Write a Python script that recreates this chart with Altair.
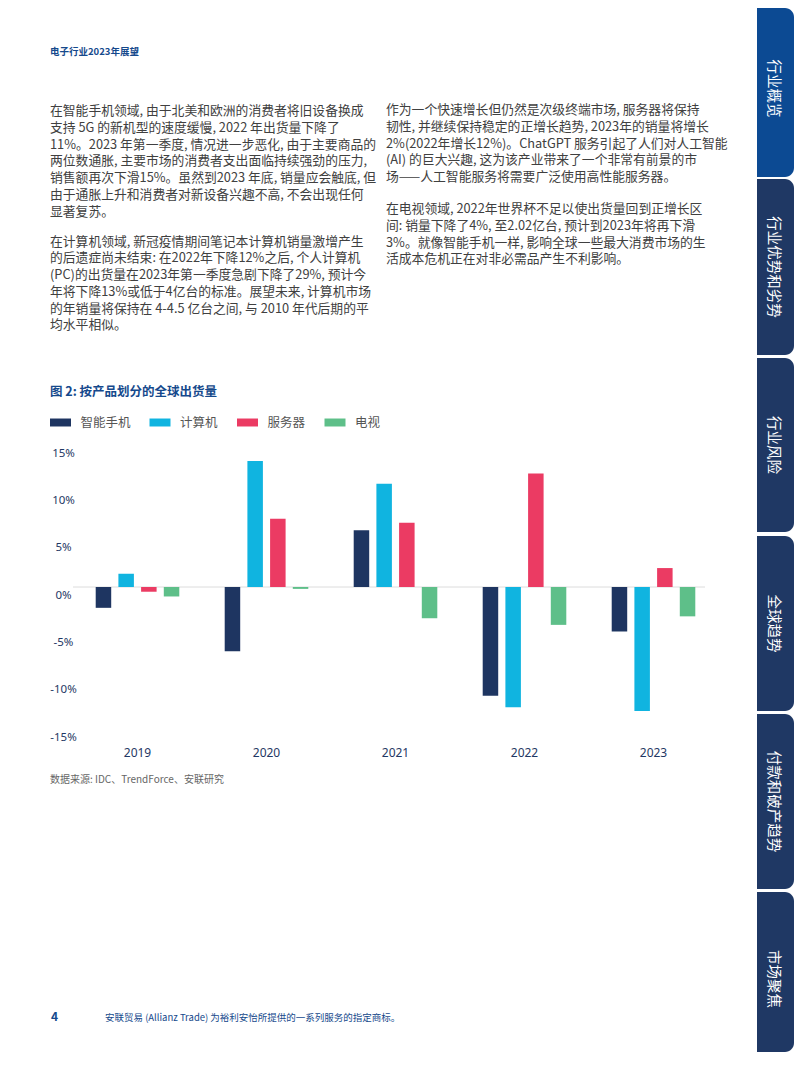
import altair as alt
import pandas as pd

# ---------------- data ----------------
years = ['2019', '2020', '2021', '2022', '2023']
series = ['智能手机', '计算机', '服务器', '电视']
smartphone = [-2.2, -6.8, 6.0, -11.5, -4.7]
computer = [1.4, 13.3, 10.9, -12.7, -13.1]
server = [-0.5, 7.2, 6.8, 12.0, 2.0]
tv = [-1.0, -0.2, -3.3, -4.0, -3.1]
y_ticks = [-15, -10, -5, 0, 5, 10, 15]

colors = ['#1e3561', '#10b4e0', '#eb3b63', '#5ebf89']

title_text = '图 2: 按产品划分的全球出货量'
source_text = '数据来源: IDC、TrendForce、安联研究'
header_text = '电子行业2023年展望'
page_no = '4'
footer_text = '安联贸易 (Allianz Trade) 为裕利安怡所提供的一系列服务的指定商标。'

left_p1 = [
    '在智能手机领域, 由于北美和欧洲的消费者将旧设备换成',
    '支持 5G 的新机型的速度缓慢, 2022 年出货量下降了',
    '11%。2023 年第一季度, 情况进一步恶化, 由于主要商品的',
    '两位数通胀, 主要市场的消费者支出面临持续强劲的压力,',
    '销售额再次下滑15%。虽然到2023 年底, 销量应会触底, 但',
    '由于通胀上升和消费者对新设备兴趣不高, 不会出现任何',
    '显著复苏。',
]
left_p2 = [
    '在计算机领域, 新冠疫情期间笔记本计算机销量激增产生',
    '的后遗症尚未结束: 在2022年下降12%之后, 个人计算机',
    '(PC)的出货量在2023年第一季度急剧下降了29%, 预计今',
    '年将下降13%或低于4亿台的标准。展望未来, 计算机市场',
    '的年销量将保持在 4-4.5 亿台之间, 与 2010 年代后期的平',
    '均水平相似。',
]
right_p1 = [
    '作为一个快速增长但仍然是次级终端市场, 服务器将保持',
    '韧性, 并继续保持稳定的正增长趋势, 2023年的销量将增长',
    '2%(2022年增长12%)。ChatGPT 服务引起了人们对人工智能',
    '(AI) 的巨大兴趣, 这为该产业带来了一个非常有前景的市',
    '场——人工智能服务将需要广泛使用高性能服务器。',
]
right_p2 = [
    '在电视领域, 2022年世界杯不足以使出货量回到正增长区',
    '间: 销量下降了4%, 至2.02亿台, 预计到2023年将再下滑',
    '3%。就像智能手机一样, 影响全球一些最大消费市场的生',
    '活成本危机正在对非必需品产生不利影响。',
]
tabs = ['行业概览', '行业优势和劣势', '行业风险', '全球趋势', '付款和破产趋势', '市场聚焦']

# ---------------- layout (page pixels, separate from data) ----------------
OX, OY = 73, 445          # plot origin on the page
W, H = 645, 284
TOTAL_W, TOTAL_H = 786, 1046
LH = 16.75
CJK = 'Noto Sans CJK SC'
BLUE = '#15498c'


def px(x):
    return x - OX


def py(y):
    return y - OY


rows = []
for lines, x0, y0 in [(left_p1, 50, 111), (left_p2, 50, 241.7),
                      (right_p1, 386, 110), (right_p2, 386, 209)]:
    for i, t in enumerate(lines):
        rows.append({'text': t, 'px': px(x0), 'py': py(y0 + i * LH)})
body_df = pd.DataFrame(rows)

bold_df = pd.DataFrame([
    {'text': header_text, 'px': px(50), 'py': py(52), 'fs': 9.5},
    {'text': title_text, 'px': px(50), 'py': py(391.5), 'fs': 12.5},
    {'text': page_no, 'px': px(51), 'py': py(1017), 'fs': 12},
])
footer_df = pd.DataFrame([{'text': footer_text, 'px': px(105), 'py': py(1018)}])
source_df = pd.DataFrame([{'text': source_text, 'px': px(50), 'py': py(780)}])

TAB_L, TAB_R = 757, 794
tab_spans = [(8, 177), (179, 355), (358, 532), (536, 711), (714, 889), (892, 1052)]
tab_centers = [88.5, 267, 445, 623.5, 801.5, 979]
tab_fill = ['#0c4a93'] + ['#1f3864'] * 5
tab_df = pd.DataFrame({
    'label': tabs,
    'y0': [py(a) for a, b in tab_spans],
    'y1': [py(b) for a, b in tab_spans],
    'yc': [py(c) for c in tab_centers],
    'fill': tab_fill,
})

# ---------------- chart data ----------------
recs = []
for name, vals in zip(series, [smartphone, computer, server, tv]):
    for yr, v in zip(years, vals):
        recs.append({'year': yr, 'series': name, 'value': v})
df = pd.DataFrame(recs)

bars = alt.Chart(df).mark_bar().encode(
    x=alt.X('year:N', sort=years,
            scale=alt.Scale(paddingInner=0.352, paddingOuter=0.176),
            axis=alt.Axis(title=None, domain=False, ticks=False, tickSize=0,
                          labelAngle=0, labelPadding=23, labelBaseline='middle',
                          labelFontSize=12, labelColor='#1f3864', labelFont='Noto Sans')),
    xOffset=alt.XOffset('series:N', sort=series,
                        scale=alt.Scale(paddingInner=0.317, paddingOuter=0)),
    y=alt.Y('value:Q', scale=alt.Scale(domain=[-15, 15], nice=False),
            axis=alt.Axis(title=None, values=y_ticks, labelExpr="datum.value + '%'",
                          domain=False, ticks=False, tickSize=0, grid=False,
                          labelAlign='center', labelPadding=10, labelOffset=8,
                          labelBaseline='middle',
                          labelFontSize=11.5, labelColor='#1f3864', labelFont='Noto Sans')),
    color=alt.Color('series:N', scale=alt.Scale(domain=series, range=colors),
                    legend=alt.Legend(orient='none', legendX=-23, legendY=-33,
                                      direction='horizontal', columns=4, title=None,
                                      symbolType='M-1,-0.38H1V0.38H-1Z', symbolSize=441,
                                      symbolStrokeWidth=0, symbolOpacity=1,
                                      labelFontSize=12.5, labelColor='#555555',
                                      labelFont=CJK, labelOffset=9.5,
                                      columnPadding=18.5, padding=0)),
)

zero = alt.Chart(pd.DataFrame({'value': [0]})).mark_rule(
    color='#dcdcdc', strokeWidth=1).encode(
    y='value:Q', x=alt.value(0), x2=alt.value(632))

plot = alt.layer(zero, bars)

tab_rects = alt.Chart(tab_df).mark_rect(
    cornerRadiusTopRight=9, cornerRadiusBottomRight=9).encode(
    x=alt.value(px(TAB_L)), x2=alt.value(px(TAB_R)),
    y=alt.Y('y0:Q', scale=None, axis=None), y2='y1:Q',
    color=alt.Color('fill:N', scale=None))

tab_text = alt.Chart(tab_df).mark_text(
    angle=90, align='center', baseline='middle', color='white',
    fontSize=14.5, font=CJK).encode(
    x=alt.value(px((TAB_L + TAB_R) / 2 - 2.5)),
    y=alt.Y('yc:Q', scale=None, axis=None), text='label:N')

body = alt.Chart(body_df).mark_text(
    align='left', baseline='middle', color='#404040', fontSize=12.8, font=CJK).encode(
    x=alt.X('px:Q', scale=None, axis=None),
    y=alt.Y('py:Q', scale=None, axis=None), text='text:N')

bold = alt.Chart(bold_df).mark_text(
    align='left', baseline='middle', color=BLUE, fontWeight='bold', font=CJK).encode(
    x=alt.X('px:Q', scale=None, axis=None),
    y=alt.Y('py:Q', scale=None, axis=None),
    size=alt.Size('fs:Q', scale=None), text='text:N')

footer = alt.Chart(footer_df).mark_text(
    align='left', baseline='middle', color=BLUE, fontSize=9.5, font=CJK).encode(
    x=alt.X('px:Q', scale=None, axis=None),
    y=alt.Y('py:Q', scale=None, axis=None), text='text:N')

source = alt.Chart(source_df).mark_text(
    align='left', baseline='middle', color='#666666', fontSize=10, font=CJK).encode(
    x=alt.X('px:Q', scale=None, axis=None),
    y=alt.Y('py:Q', scale=None, axis=None), text='text:N')

chart = alt.layer(tab_rects, tab_text, body, bold, footer, source, plot).resolve_scale(
    x='independent', y='independent', color='independent', size='independent'
).properties(
    width=W, height=H,
    autosize=alt.AutoSizeParams(type='none'),
    padding={'left': OX - 8, 'top': OY - 8,
             'right': TOTAL_W - (OX - 8) - W,
             'bottom': TOTAL_H - (OY - 8) - H},
    background='white',
).configure_view(stroke=None)

chart.save('out.html', embed_options={'renderer': 'svg', 'actions': False})
